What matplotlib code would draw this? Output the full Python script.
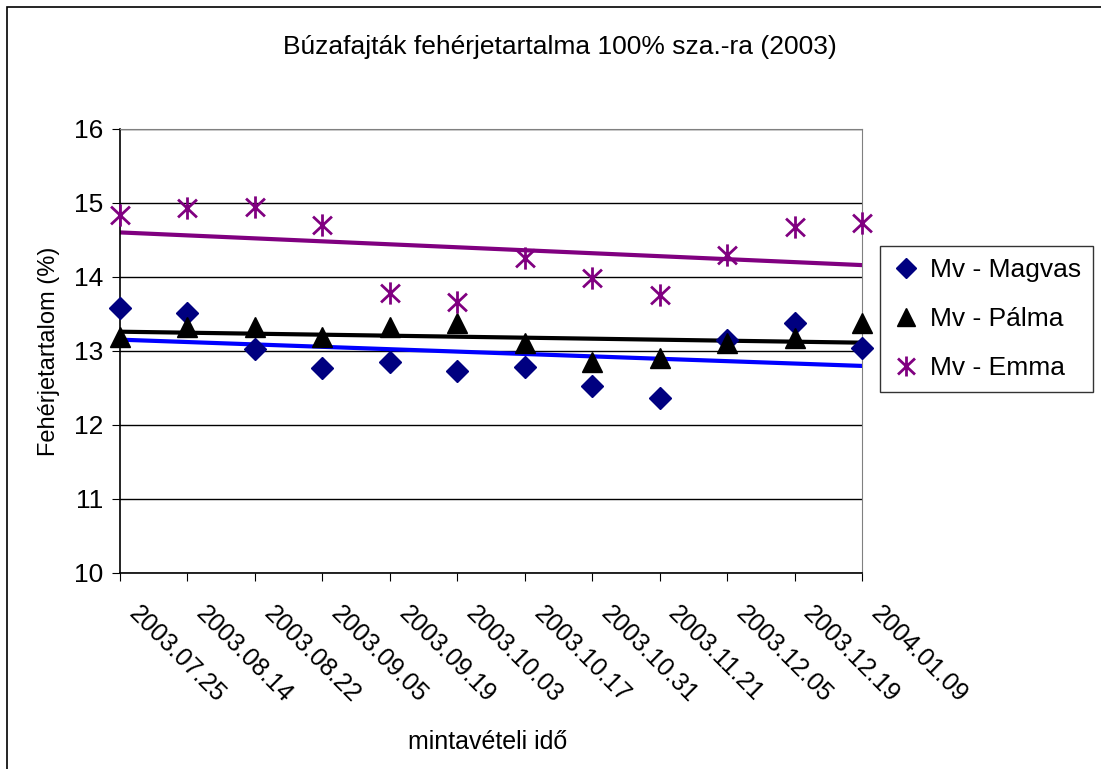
import numpy as np
import matplotlib.pyplot as plt
from matplotlib.patches import Rectangle
from matplotlib.path import Path
from matplotlib.transforms import ScaledTranslation

plt.rcParams['font.family'] = ['Liberation Sans', 'DejaVu Sans']

dates = ['2003.07.25', '2003.08.14', '2003.08.22', '2003.09.05', '2003.09.19',
         '2003.10.03', '2003.10.17', '2003.10.31', '2003.11.21', '2003.12.05',
         '2003.12.19', '2004.01.09']
magvas = [13.58, 13.51, 13.03, 12.77, 12.85, 12.73, 12.78, 12.53, 12.36, 13.15, 13.38, 13.04]
palma = [13.19, 13.32, 13.32, 13.19, 13.32, 13.38, 13.11, 12.85, 12.90, 13.11, 13.17, 13.38]
emma = [14.84, 14.93, 14.95, 14.70, 13.78, 13.66, 14.26, 13.99, 13.76, 14.30, 14.68, 14.73]

# excel-like star: vertical bar + X
star = Path([(0, -1), (0, 1), (-0.85, -0.8), (0.85, 0.8), (-0.85, 0.8), (0.85, -0.8)],
            [Path.MOVETO, Path.LINETO, Path.MOVETO, Path.LINETO, Path.MOVETO, Path.LINETO])

W, H = 1101, 769
fig = plt.figure(figsize=(W / 100, H / 100), dpi=100)
fig.patches.append(Rectangle((7 / W, -20 / H), (W + 20) / W, (H + 13) / H,
                             transform=fig.transFigure, fill=False,
                             edgecolor='black', linewidth=1.2))

ax = fig.add_axes([120 / W, 1 - 573 / H, (862 - 120) / W, (573 - 129) / H])
x = np.arange(len(dates))

# linear trend lines
for vals, col in [(magvas, '#0000ff'), (palma, 'black'), (emma, '#800080')]:
    k, b = np.polyfit(x, vals, 1)
    ax.plot(x, k * x + b, color=col, linewidth=3, zorder=2)

ax.plot(x, magvas, linestyle='none', marker='D', markersize=11, color='#000080',
        label='Mv - Magvas', zorder=3, clip_on=False)
ax.plot(x, palma, linestyle='none', marker='^', markersize=14, color='black',
        label='Mv - Pálma', zorder=3, clip_on=False)
ax.plot(x, emma, linestyle='none', marker=star, markersize=16, markeredgewidth=2,
        color='#800080', label='Mv - Emma', zorder=3, clip_on=False)

ax.set_xlim(0, len(dates) - 1)
ax.set_ylim(10, 16)
ax.set_yticks(range(10, 17))
ax.yaxis.grid(True, color='black', linewidth=1)
ax.set_axisbelow(True)
ax.set_xticks(x)
ax.set_xticklabels(dates, rotation=-45, ha='left', va='bottom', rotation_mode='anchor')
ax.tick_params(axis='x', labelsize=18, direction='out', length=6, pad=27)
ax.tick_params(axis='y', labelsize=19, direction='out', length=6, pad=6)
for lab in ax.get_xticklabels():
    lab.set_transform(lab.get_transform() + ScaledTranslation(0.04, 0, fig.dpi_scale_trans))
for s in ['top', 'right']:
    ax.spines[s].set_color('#808080')
ax.spines['left'].set_linewidth(1.2)
ax.spines['bottom'].set_linewidth(1.2)

ax.set_ylabel('Fehérjetartalom (%)', fontsize=17, labelpad=10)
fig.text(408 / W, 1 - 742 / H, 'mintavételi idő', ha='left', va='center', fontsize=18)
fig.text(560 / W, 1 - 47 / H, 'Búzafajták fehérjetartalma 100% sza.-ra (2003)',
         ha='center', va='center', fontsize=19)

leg = ax.legend(loc='upper left', bbox_to_anchor=(880 / W, 1 - 246 / H),
                bbox_transform=fig.transFigure, fontsize=19, frameon=True,
                fancybox=False, edgecolor='black', handlelength=1.1,
                handletextpad=0.35, borderpad=0.45, labelspacing=0.95,
                borderaxespad=0, markerscale=0.9)
leg.get_frame().set_linewidth(1)

fig.savefig('out.png', dpi=100)
